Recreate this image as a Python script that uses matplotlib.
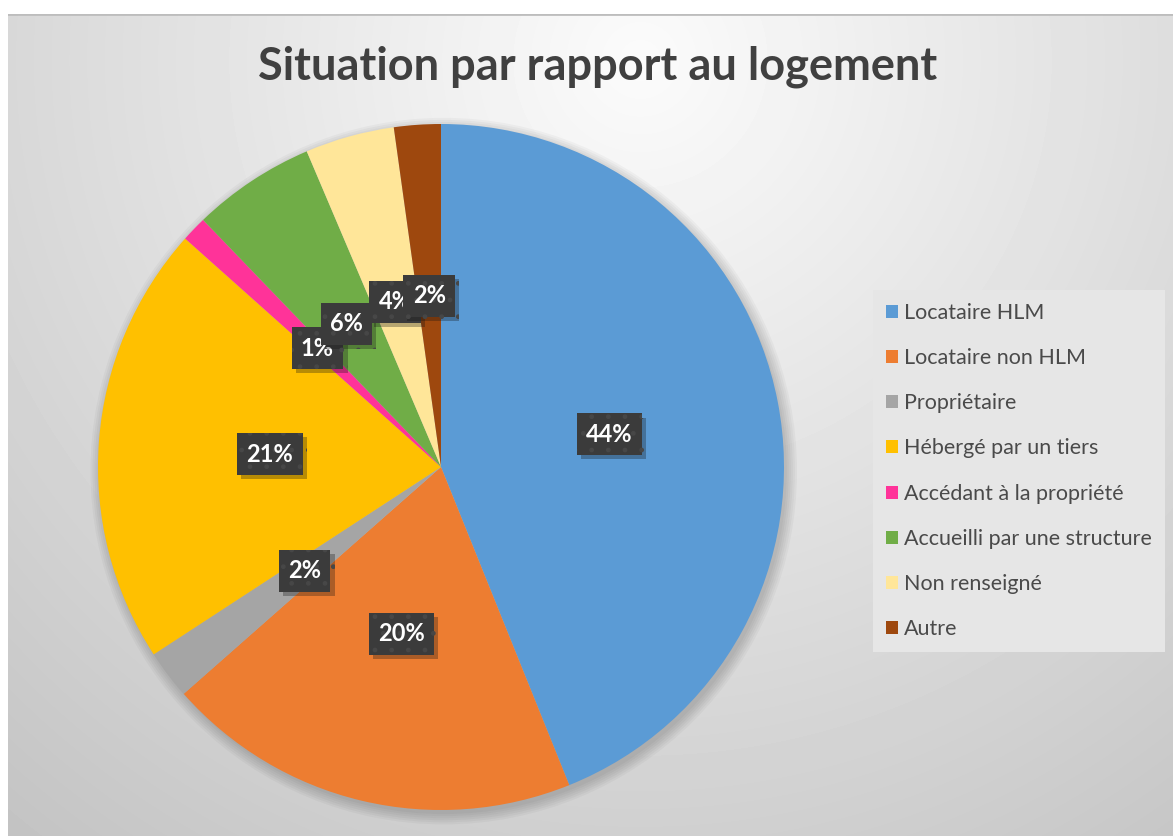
import numpy as np
import matplotlib
matplotlib.use("Agg")
import matplotlib.pyplot as plt
from matplotlib.patches import Patch, Circle
from matplotlib import patheffects as pe

plt.rcParams['font.family'] = ['Lato', 'DejaVu Sans']

# parts of the housing situation, in percent
categories = ["Locataire HLM", "Locataire non HLM", "Propriétaire",
              "Hébergé par un tiers", "Accédant à la propriété",
              "Accueilli par une structure", "Non renseigné", "Autre"]
values = [43.9, 19.6, 2.3, 20.8, 1.2, 5.8, 4.2, 2.2]
colors = ["#5B9BD5", "#ED7D31", "#A5A5A5", "#FFC000", "#FF3399",
          "#70AD47", "#FFE699", "#9E480E"]
title = "Situation par rapport au logement"

W, H = 1173, 836
fig = plt.figure(figsize=(W / 100, H / 100), dpi=100)
fig.patch.set_facecolor("white")

# gradient background of the chart area
bg = fig.add_axes([8 / W, 0, 1 - 8 / W, 1 - 14 / H])
yy, xx = np.mgrid[14:H, 8:W]
r = np.hypot(xx - 640, yy - 60)
shade = np.clip(0.985 - 0.22 * r / 1000, 0, 1)
bg.imshow(shade, cmap="gray", vmin=0, vmax=1, aspect="auto",
          extent=[0, 1, 0, 1], interpolation="bilinear")
bg.plot([0, 1], [1, 1], color="#bdbdbd", lw=2, transform=bg.transAxes)
bg.set_axis_off()

# pie axes: centre (441, 467), radius 343 px
cx, cy, rad = 441, 467, 343
ax = fig.add_axes([(cx - rad) / W, 1 - (cy + rad) / H, 2 * rad / W, 2 * rad / H])
ax.set_xlim(-1, 1)
ax.set_ylim(-1, 1)
ax.set_aspect("equal")
ax.set_axis_off()

# soft shadow under the pie
for k in range(6):
    ax.add_patch(Circle((0.008, -0.012), 1.0 + 0.006 * k, color="black",
                        alpha=0.03, lw=0, zorder=0, clip_on=False))

wedges, texts, autotexts = ax.pie(
    values, colors=colors, startangle=90, counterclock=False,
    autopct="%.0f%%", pctdistance=0.5, radius=1,
    wedgeprops=dict(linewidth=0, zorder=2),
    textprops=dict(color="white", fontsize=17, fontweight="bold", zorder=5))
ax.set_xlim(-1, 1)
ax.set_ylim(-1, 1)

for t in autotexts:
    t.set_bbox(dict(boxstyle="square,pad=0.4", facecolor="#3b3b3b",
                    edgecolor="#474747", linewidth=0, hatch="."))
    t.get_bbox_patch().set_path_effects(
        [pe.SimplePatchShadow(offset=(3, -3), alpha=0.3), pe.Normal()])

fig.text(598 / W, 1 - 67 / H, title, ha="center", va="center",
         fontsize=32.5, fontweight="bold", color="#404040")

handles = [Patch(facecolor=c, edgecolor="none") for c in colors]
leg = fig.legend(handles, categories, loc="upper left",
                 bbox_to_anchor=(873 / W, 1 - 290 / H),
                 frameon=True, fancybox=False, fontsize=15.5,
                 handlelength=0.55, handleheight=0.55, handletextpad=0.3,
                 labelspacing=1.17, borderpad=0.6, borderaxespad=0)
leg.get_frame().set_facecolor("#e6e6e6")
leg.get_frame().set_edgecolor("none")
leg.get_frame().set_alpha(1)
for t in leg.get_texts():
    t.set_color("#4a4a4a")

fig.savefig("out.png", dpi=100)
